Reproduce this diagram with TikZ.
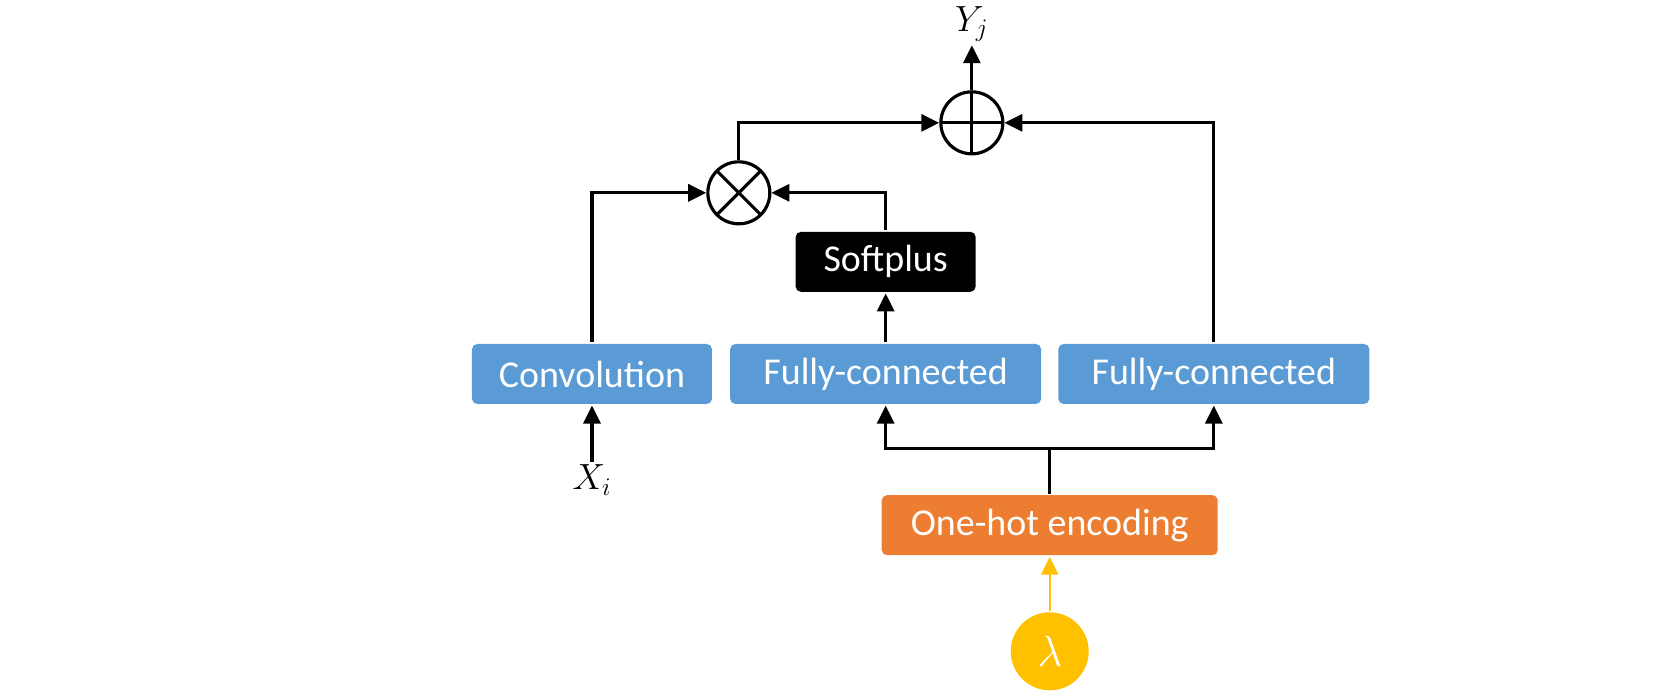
\documentclass[tikz,border=0pt]{standalone}
\usepackage{fontspec}
\setmainfont{Carlito}
\usetikzlibrary{positioning,arrows.meta,calc}
\definecolor{fcblue}{HTML}{5B9BD5}
\definecolor{ohorange}{HTML}{ED7D31}
\definecolor{lamgold}{HTML}{FFC000}

\begin{document}
\begin{tikzpicture}[>={Triangle[length=0.36cm,width=0.34cm]},line width=1.8pt,
  b/.style={fill=fcblue,rounded corners=3pt,text=white,minimum height=1.2cm,inner sep=0pt,font=\fontsize{21.6}{26}\selectfont},
  op/.style={draw,circle,minimum size=1.24cm,inner sep=0pt},
  mulop/.style={op,path picture={\draw (path picture bounding box.north west) -- (path picture bounding box.south east)
    (path picture bounding box.north east) -- (path picture bounding box.south west);}},
  addop/.style={op,path picture={\draw (path picture bounding box.north) -- (path picture bounding box.south)
    (path picture bounding box.west) -- (path picture bounding box.east);}},
  lbl/.style={inner sep=1pt,font=\fontsize{21}{25}\selectfont}]
  \useasboundingbox (-11.84,-6.36) rectangle (21.40,7.48);
  \node[b,minimum width=4.8cm] (conv) at (0,0) {Convolution};
  \node[b,minimum width=6.22cm,right=0.3cm of conv] (fc1) {Fully-connected};
  \node[b,minimum width=6.22cm,right=0.28cm of fc1] (fc2) {Fully-connected};
  \node[b,fill=black,minimum width=3.6cm,above=0.98cm of fc1] (sp) {Softplus};
  \coordinate (mid) at ($(fc1.south)!.5!(fc2.south)$);
  \node[b,fill=ohorange,minimum width=6.72cm,below=1.76cm of mid] (oh) {One-hot encoding};
  \node[circle,fill=lamgold,minimum size=1.56cm,inner sep=0pt,text=white,
    font=\fontsize{24}{28}\selectfont,below=1.08cm of oh] (lam) {$\lambda$};
  \coordinate (top) at ($(conv.north)!.5!(fc1.north)$);
  \node[mulop,above=2.34cm of top] (mul) {};
  \node[addop] (add) at ($(mul)+(4.66,1.4)$) {};
  \node[lbl,above=0.9cm of add] (yj) {$Y_j$};
  \node[lbl,below=1.12cm of conv] (xi) {$X_i$};
  \draw[->] (conv) |- (mul);
  \draw[->] (fc1) -- (sp);
  \draw[->] (sp) |- (mul);
  \draw[->] (mul) |- (add);
  \draw[->] (fc2) |- (add);
  \draw[->] (add) -- (yj);
  \draw[->] (xi) -- (conv);
  \draw (oh.north) -- ++(0,0.9) coordinate (j);
  \foreach \f in {fc1,fc2}{\draw[->] (j) -| (\f);}
  \draw[->,lamgold,line width=1.1pt] (lam) -- (oh);
\end{tikzpicture}
\end{document}
